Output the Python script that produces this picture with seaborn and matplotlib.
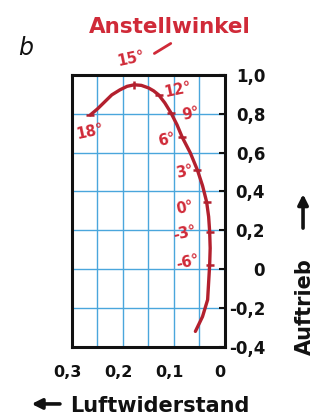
import matplotlib
matplotlib.use("Agg")
import matplotlib.pyplot as plt
import seaborn as sns
import pandas as pd
from matplotlib.transforms import ScaledTranslation

# polar curve (drag coefficient vs lift coefficient)
curve_drag = [0.264, 0.250, 0.236, 0.222, 0.206, 0.192, 0.178, 0.164, 0.150,
              0.140, 0.130, 0.118, 0.106, 0.094, 0.084, 0.068, 0.054, 0.044,
              0.036, 0.032, 0.030, 0.029, 0.030, 0.034, 0.044, 0.058]
curve_lift = [0.794, 0.825, 0.861, 0.897, 0.923, 0.941, 0.949, 0.946, 0.933,
              0.918, 0.897, 0.856, 0.805, 0.743, 0.680, 0.599, 0.510, 0.430,
              0.347, 0.270, 0.193, 0.108, 0.023, -0.157, -0.244, -0.320]

# angle-of-attack marks on the curve
angles = [18, 15, 12, 9, 6, 3, 0, -3, -6]
mark_drag = [0.264, 0.178, 0.130, 0.106, 0.084, 0.054, 0.036, 0.030, 0.030]
mark_lift = [0.794, 0.949, 0.897, 0.805, 0.680, 0.510, 0.347, 0.193, 0.023]

x_ticks = [0, 0.05, 0.1, 0.15, 0.2, 0.25, 0.3]
x_tick_labels = ["0", "", "0,1", "", "0,2", "", "0,3"]
y_ticks = [1.0, 0.8, 0.6, 0.4, 0.2, 0.0, -0.2, -0.4]
y_tick_labels = ["1,0", "0,8", "0,6", "0,4", "0,2", "0", "-0,2", "-0,4"]

# label offsets (points) relative to their marks
label_offsets = [(0, -12), (-2, 19), (14, 4), (14, -1), (-11, -2),
                 (-9, -1.5), (-16, -4), (-18, -1), (-16, 2)]

curve_color = "#b3202e"
label_color = "#d02a38"
grid_color = "#4aa6dc"
ink = "#111111"

sns.set_style("white")
plt.rcParams["font.family"] = ["DejaVu Sans"]

fig = plt.figure(figsize=(3.2, 4.16), dpi=100)
ax = fig.add_axes([0.225, 0.166, 0.478, 0.654])

curve = pd.DataFrame({"drag": curve_drag, "lift": curve_lift})
sns.lineplot(data=curve, x="drag", y="lift", sort=False, estimator=None,
             color=curve_color, lw=2.4, ax=ax)

for ang, x, y in zip(angles, mark_drag, mark_lift):
    m = "|" if ang == 15 else "_"
    ax.plot([x], [y], marker=m, ms=6, mew=1.8, color=curve_color, ls="none")

for ang, x, y, off in zip(angles, mark_drag, mark_lift, label_offsets):
    ax.annotate(f"{ang}°", (x, y), xytext=off, textcoords="offset points",
                ha="center", va="center", rotation=12, color=label_color,
                fontsize=10.5, fontweight="bold", annotation_clip=False)

ax.set_xlim(0.3, 0)
ax.set_ylim(-0.4, 1.0)
ax.set_xticks(x_ticks, labels=x_tick_labels)
ax.set_yticks(y_ticks, labels=y_tick_labels)
ax.yaxis.tick_right()
ax.set_xlabel("")
ax.set_ylabel("")

ax.grid(True, color=grid_color, lw=1.0)
for s in ax.spines.values():
    s.set_color(ink)
    s.set_linewidth(2.2)

ax.tick_params(axis="x", direction="in", length=4, width=1.5, pad=13,
               labelsize=11.5, colors=ink)
ax.tick_params(axis="y", direction="in", length=4, width=1.5, pad=29,
               labelsize=12, colors=ink)
for t in ax.get_yticklabels() + ax.get_xticklabels():
    t.set_fontweight("bold")
for t in ax.get_yticklabels():
    t.set_ha("right")
shift = ScaledTranslation(-5 / 100, 0, fig.dpi_scale_trans)
for t in ax.get_xticklabels():
    t.set_transform(t.get_transform() + shift)

# texts around the diagram
fig.text(0.531, 0.921, "Anstellwinkel", color=label_color, fontsize=15.5,
         fontweight="bold", ha="center", va="baseline")
fig.text(0.056, 0.868, "b", fontsize=17, style="italic", color=ink,
         ha="left", va="baseline")
fig.text(0.219, 0.0096, "Luftwiderstand", fontsize=15, fontweight="bold",
         color=ink, ha="left", va="baseline")
fig.text(0.953, 0.264, "Auftrieb", fontsize=15, fontweight="bold", color=ink,
         rotation=90, ha="center", va="center")

ax.annotate("", xy=(0.090, 0.029), xytext=(0.196, 0.029),
            xycoords="figure fraction",
            arrowprops=dict(arrowstyle="-|>", color=ink, lw=2.6,
                            mutation_scale=15))
ax.annotate("", xy=(0.947, 0.540), xytext=(0.947, 0.445),
            xycoords="figure fraction",
            arrowprops=dict(arrowstyle="-|>", color=ink, lw=2.6,
                            mutation_scale=15))
# pointer stroke from the title down to the curve
ax.annotate("", xy=(0.475, 0.868), xytext=(0.541, 0.899),
            xycoords="figure fraction",
            arrowprops=dict(arrowstyle="-", color=label_color, lw=2.0))

fig.savefig("out.png", dpi=100)
